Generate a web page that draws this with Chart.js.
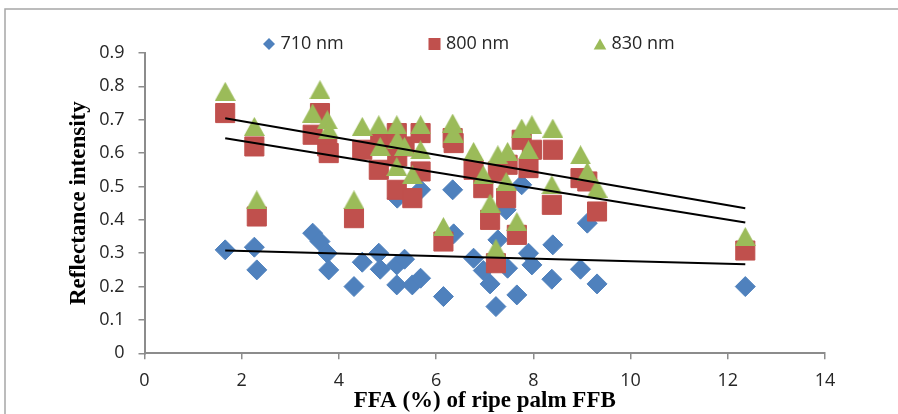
<!DOCTYPE html>
<html>
<head>
<meta charset="utf-8">
<title>Reflectance intensity vs FFA</title>
<script src="https://cdn.jsdelivr.net/npm/chart.js@4.4.1/dist/chart.umd.min.js"></script>
<style>
  html, body { margin: 0; padding: 0; background: #fff; }
  #wrap { width: 898px; height: 414px; }
</style>
</head>
<body>
<div id="wrap"><canvas id="myChart" width="898" height="414"></canvas></div>
<script>
// FFA (%) of each ripe palm FFB sample, and reflectance at each wavelength
const ffa  = [1.66, 2.26, 2.31, 3.46, 3.61, 3.76, 3.79, 4.31, 4.48, 4.82, 4.85, 5.19, 5.19, 5.20, 5.35, 5.51, 5.68, 5.68, 6.15, 6.34, 6.36, 6.77, 6.97, 7.11, 7.23, 7.27, 7.44, 7.47, 7.66, 7.76, 7.90, 7.97, 8.38, 8.40, 8.97, 9.11, 9.31, 12.36];
const r710 = [0.31, 0.318, 0.25, 0.36, 0.335, 0.30, 0.25, 0.20, 0.273, 0.30, 0.252, 0.265, 0.205, 0.465, 0.282, 0.205, 0.225, 0.49, 0.17, 0.49, 0.358, 0.285, 0.248, 0.208, 0.14, 0.34, 0.43, 0.255, 0.175, 0.505, 0.30, 0.265, 0.222, 0.325, 0.252, 0.39, 0.208, 0.20];
const r800 = [0.72, 0.62, 0.41, 0.655, 0.72, 0.62, 0.60, 0.405, 0.61, 0.55, 0.63, 0.66, 0.49, 0.59, 0.62, 0.465, 0.66, 0.545, 0.335, 0.645, 0.63, 0.55, 0.495, 0.40, 0.27, 0.545, 0.465, 0.565, 0.355, 0.64, 0.555, 0.61, 0.445, 0.61, 0.525, 0.515, 0.425, 0.308];
const r830 = [0.785, 0.68, 0.46, 0.72, 0.79, 0.70, 0.67, 0.46, 0.68, 0.685, 0.62, 0.685, 0.56, 0.64, 0.62, 0.535, 0.685, 0.61, 0.38, 0.69, 0.66, 0.605, 0.535, 0.45, 0.315, 0.595, 0.515, 0.605, 0.395, 0.675, 0.61, 0.685, 0.505, 0.675, 0.595, 0.545, 0.495, 0.35];
const seriesNames = ['710 nm', '800 nm', '830 nm'];
const xTitle = 'FFA (%) of ripe palm FFB';
const yTitle = 'Reflectance intensity';

const colors = ['#4F81BD', '#C0504D', '#9BBB59'];
const axisGrey = '#8c8c8c';
const labelColor = '#262626';

const points = ys => ffa.map((x, i) => ({ x: x, y: ys[i] }));

// least squares line over the range of the samples (like an Excel linear trendline)
function trend(xs, ys) {
  const n = xs.length;
  const mx = xs.reduce((a, b) => a + b, 0) / n;
  const my = ys.reduce((a, b) => a + b, 0) / n;
  let sxy = 0, sxx = 0;
  for (let i = 0; i < n; i++) {
    sxy += (xs[i] - mx) * (ys[i] - my);
    sxx += (xs[i] - mx) * (xs[i] - mx);
  }
  const b = sxy / sxx, a = my - b * mx;
  const lo = Math.min(...xs), hi = Math.max(...xs);
  return [{ x: lo, y: a + b * lo }, { x: hi, y: a + b * hi }];
}

// triangle marker centred in its box, as Excel draws it
const tri = document.createElement('canvas');
tri.width = 21; tri.height = 19;
const tctx = tri.getContext('2d');
tctx.fillStyle = colors[2];
tctx.beginPath();
tctx.moveTo(10.5, 0); tctx.lineTo(21, 19); tctx.lineTo(0, 19);
tctx.closePath();
tctx.fill();

// grey frame round the chart (only left and top edges are in view)
const frame = {
  id: 'frame',
  beforeDraw(chart) {
    const ctx = chart.ctx;
    ctx.save();
    ctx.strokeStyle = '#a6a6a6';
    ctx.lineWidth = 1.5;
    ctx.beginPath();
    ctx.moveTo(5, 414); ctx.lineTo(5, 9); ctx.lineTo(898, 9);
    ctx.stroke();
    ctx.restore();
  }
};

// legend in one row at the top, Excel style
const legendMarks = [
  { pointStyle: 'rectRot', radius: 6, dy: 0 },
  { pointStyle: 'rect', radius: 8.5, dy: 0 },
  { pointStyle: 'triangle', radius: 7.3, dy: 1.8 }
];
const topLegend = {
  id: 'topLegend',
  afterDraw(chart) {
    const ctx = chart.ctx;
    ctx.save();
    ctx.font = '18px "Open Sans"';
    ctx.textBaseline = 'middle';
    seriesNames.forEach((name, i) => {
      const x = 269 + i * 165.5, y = 44;
      const m = legendMarks[i];
      ctx.fillStyle = colors[i];
      ctx.strokeStyle = colors[i];
      Chart.helpers.drawPoint(ctx, { pointStyle: m.pointStyle, radius: m.radius, rotation: 0, borderWidth: 0 }, x, y + m.dy);
      ctx.fillStyle = labelColor;
      ctx.fillText(name, x + 11.5, y);
    });
    ctx.restore();
  }
};

const tickFont = { family: 'Open Sans', size: 18 };
const titleFont = { family: 'Liberation Serif', size: 23, weight: 'bold', lineHeight: 1 };

new Chart(document.getElementById('myChart'), {
  type: 'scatter',
  data: {
    datasets: [
      { label: seriesNames[0], data: points(r710), pointStyle: 'rectRot', pointRadius: 10, backgroundColor: colors[0], borderColor: colors[0], borderWidth: 1, order: 3 },
      { label: seriesNames[1], data: points(r800), pointStyle: 'rect', pointRadius: 13.5, backgroundColor: colors[1], borderColor: colors[1], borderWidth: 1, order: 2 },
      { label: seriesNames[2], data: points(r830), pointStyle: tri, backgroundColor: colors[2], borderColor: colors[2], order: 1 },
      { type: 'line', data: trend(ffa, r710), borderColor: '#000', borderWidth: 2, pointRadius: 0, showLine: true, fill: false, order: 0 },
      { type: 'line', data: trend(ffa, r800), borderColor: '#000', borderWidth: 2, pointRadius: 0, showLine: true, fill: false, order: 0 },
      { type: 'line', data: trend(ffa, r830), borderColor: '#000', borderWidth: 2, pointRadius: 0, showLine: true, fill: false, order: 0 }
    ]
  },
  options: {
    responsive: false,
    animation: false,
    layout: { padding: { top: 53, right: 73, bottom: 0, left: 0 } },
    plugins: { legend: { display: false }, tooltip: { enabled: false } },
    scales: {
      x: {
        type: 'linear', min: 0, max: 14,
        ticks: { stepSize: 2, padding: 11, color: labelColor, font: tickFont },
        grid: { drawOnChartArea: false, drawTicks: true, tickLength: 6, color: axisGrey, lineWidth: 1.5 },
        border: { color: axisGrey, width: 2 },
        title: { display: true, text: xTitle, color: '#000', font: titleFont, padding: { top: 0, bottom: 1 } },
        afterFit: s => { s.height = 60.7; }
      },
      y: {
        type: 'linear', min: 0, max: 0.9,
        ticks: { stepSize: 0.1, padding: 14, color: labelColor, font: tickFont, callback: v => +v.toFixed(1) },
        grid: { drawOnChartArea: false, drawTicks: true, tickLength: 6, color: axisGrey, lineWidth: 1.5 },
        border: { color: axisGrey, width: 2 },
        title: { display: true, text: yTitle, color: '#000', font: titleFont, padding: { top: 67.5, bottom: 0 } },
        afterFit: s => { s.width = 144.5; }
      }
    }
  },
  plugins: [frame, topLegend]
});
</script>
</body>
</html>
